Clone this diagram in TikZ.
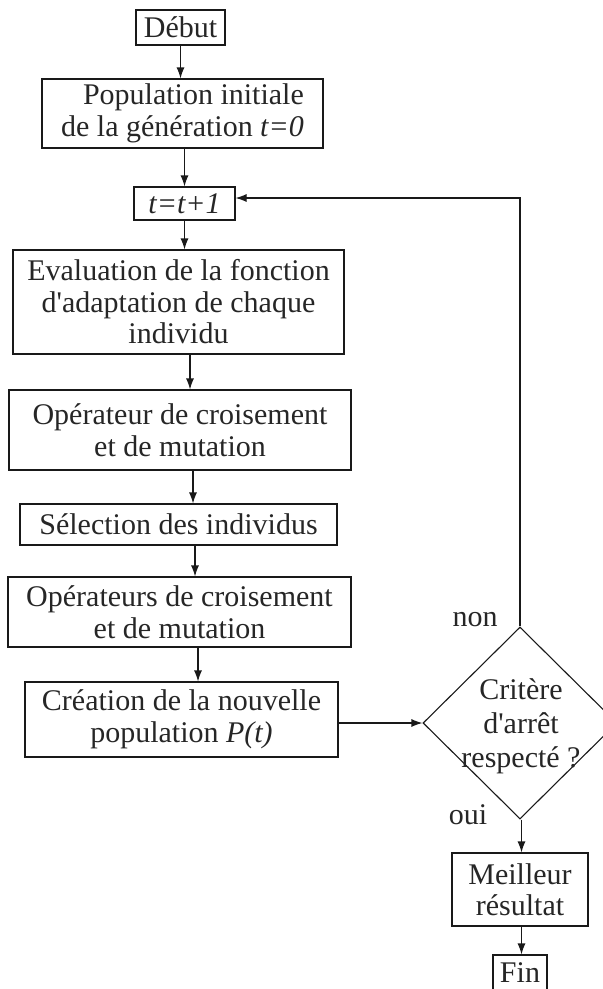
\documentclass[tikz,border=0pt]{standalone}
\usepackage{fontspec}
\setmainfont{Liberation Serif}
\usetikzlibrary{arrows.meta,shapes.geometric}
\begin{document}
\begin{tikzpicture}[x=1pt,y=-1pt,
  txt/.style={font=\fontsize{30}{31.5}\selectfont, text=black!85},
  box/.style={txt, draw=black!90, line width=1.1pt, inner sep=0pt, align=center},
  arr/.style={draw=black!90, line width=1.1pt, -{Latex[length=11pt,width=8pt]}},
  lbl/.style={txt, inner sep=0pt}]
\clip (0,0) rectangle (603,989);
\node[box, minimum width=89pt, minimum height=35pt] (debut) at (180.5,27.5) {Début};
\node[box, align=right, minimum width=281pt, minimum height=69pt] (pop) at (182.5,113.5)
  {Population initiale\\de la génération \textit{t=0}};
\node[box, minimum width=101pt, minimum height=33pt] (tt) at (184.5,203.5) {\textit{t=t+1}};
\node[box, minimum width=331pt, minimum height=104pt] (eval) at (178.5,302)
  {Evaluation de la fonction\\d\textquotesingle adaptation de chaque\\individu};
\node[box, minimum width=342pt, minimum height=80pt] (op1) at (180,430)
  {Opérateur de croisement\\et de mutation};
\node[box, minimum width=317pt, minimum height=41pt] (sel) at (178.5,524.5)
  {Sélection des individus};
\node[box, minimum width=343pt, minimum height=70pt] (op2) at (179.5,612)
  {Opérateurs de croisement\\et de mutation};
\node[box, minimum width=313pt, minimum height=75pt] (crea) at (181.5,719.5)
  {Création de la nouvelle\\population \textit{P(t)}};
\node[diamond, draw=black!90, line width=1.1pt, inner sep=0pt, minimum width=194pt, minimum height=192pt] (dia) at (520,723) {};
\node[lbl, align=center, font=\fontsize{30}{34}\selectfont] (diatext) at (521,726)
  {Critère\\d\textquotesingle arrêt\\respecté ?};
\node[lbl] (non) at (475,620) {non};
\node[lbl] (oui) at (468,815) {oui};
\node[box, minimum width=136pt, minimum height=73pt] (best) at (520,889.5) {Meilleur\\résultat};
\node[box, minimum width=54pt, minimum height=36pt] (fin) at (520,973) {Fin};

\draw[arr] (debut.south) -- (debut.south |- pop.north);
\draw[arr] (pop.south -| tt.north) -- (tt.north);
\draw[arr] (tt.south) -- (tt.south |- eval.north);
\draw[arr] ([xshift=11.5pt]eval.south) -- ([xshift=11.5pt]eval.south |- op1.north);
\draw[arr] ([xshift=13pt]op1.south) -- ([xshift=13pt]op1.south |- sel.north);
\draw[arr] ([xshift=16.5pt]sel.south) -- ([xshift=16.5pt]sel.south |- op2.north);
\draw[arr] ([xshift=18.5pt]op2.south) -- ([xshift=18.5pt]op2.south |- crea.north);
\draw[arr] (crea.east |- dia.west) -- (dia.west);
\draw[arr] (dia.north) |- ([yshift=5.5pt]tt.east);
\draw[arr] ([xshift=1.5pt]dia.south) -- ([xshift=1.5pt]dia.south |- best.north);
\draw[arr] ([xshift=1.5pt]best.south) -- ([xshift=1.5pt]best.south |- fin.north);
\end{tikzpicture}
\end{document}
